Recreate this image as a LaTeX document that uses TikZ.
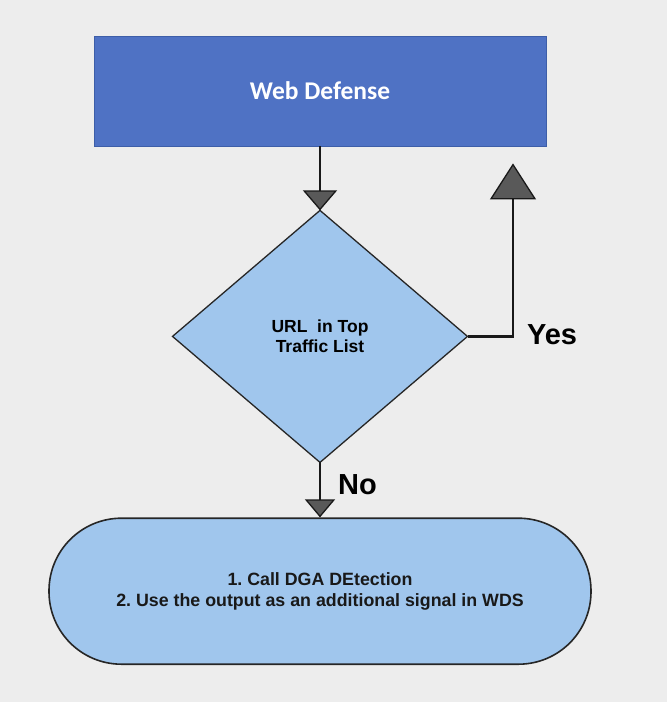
\documentclass[tikz,border=0pt]{standalone}
\usepackage{fontspec}
\setmainfont{Liberation Sans}
\newfontfamily\calibrifont{Carlito}
\usetikzlibrary{positioning,shapes.geometric,arrows.meta}
\definecolor{wdblue}{HTML}{4F72C4}
\definecolor{wdedge}{HTML}{3D5EA8}
\definecolor{lightfill}{HTML}{A0C6ED}
\definecolor{canvas}{HTML}{EDEDED}
\frenchspacing

\begin{document}
\begin{tikzpicture}[x=1pt, y=-1pt,
    sketch/.style 2 args={line width=2.2pt, draw=black!90,
        -{Triangle[length=#1, width=#2, fill=black!65, line width=1.3pt]}},
    answer/.style={font=\bfseries\fontsize{29}{34}\selectfont, inner sep=0pt}]
    \fill [canvas] (0,0) rectangle (667,702);
    \useasboundingbox (0,0) rectangle (667,702);

    \node [fill=wdblue, draw=wdedge, line width=0.8pt, minimum width=452pt, minimum height=110pt,
        text=white, font=\calibrifont\bfseries\fontsize{25.5}{30}\selectfont] (wd) at (320,91) {Web Defense};
    \node [diamond, below=64pt of wd, fill=lightfill, draw=black!85, line width=1.3pt, outer sep=0pt,
        minimum width=295pt, minimum height=252pt, inner sep=0pt, align=center,
        font=\bfseries\fontsize{17.5}{20}\selectfont] (dia) {URL\ \ in Top\\ Traffic List};
    \node [below=55pt of dia, fill=lightfill, draw=black!85, line width=1.6pt, rounded corners=72.5pt,
        minimum width=542pt, minimum height=146pt, align=center, text=black!90,
        font=\bfseries\fontsize{17.8}{20.5}\selectfont] (tm) {1. Call DGA DEtection\\2. Use the output as an additional signal in WDS};

    \draw [sketch={20pt}{34pt}] (wd) -- (dia);
    \draw [sketch={36pt}{46pt}, shorten >=17pt] (dia.east) -| ([xshift=193pt]wd.south)
        node [pos=0.5, right=13pt, yshift=2pt, answer] {Yes};
    \draw [sketch={18pt}{30pt}] (dia) -- (tm) node [midway, right=17pt, yshift=5pt, answer] {No};
\end{tikzpicture}
\end{document}
